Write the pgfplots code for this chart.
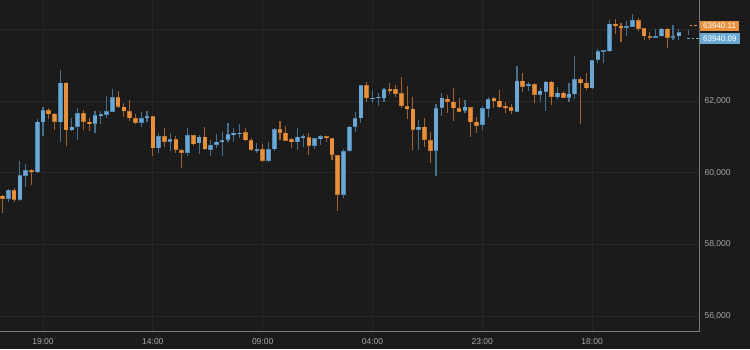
\documentclass[border=0pt]{standalone}
\usepackage{pgfplots}
\usepackage{pgfplotstable}
\pgfplotsset{compat=1.18}
\usepackage{fontspec}
\setmainfont{Liberation Sans}
\definecolor{bg}{HTML}{1B1B1B}
\definecolor{gridc}{HTML}{272727}
\definecolor{axisgray}{HTML}{7A7A7A}
\definecolor{tickc}{HTML}{A8A8A8}
\definecolor{bluebody}{HTML}{6CA8D3}
\definecolor{blueborder}{HTML}{4F88B2}
\definecolor{bluewick}{HTML}{46708F}
\definecolor{orangebody}{HTML}{E8903C}
\definecolor{orangeborder}{HTML}{C0742C}
\definecolor{orangewick}{HTML}{A4622A}
\definecolor{orangelab}{HTML}{E8913F}
\definecolor{bluelab}{HTML}{6AAAD4}

\pgfplotstableread{
k o h l c
-6 59265 59544 59191 59516
-4 59237 60326 59209 59935
-3 59916 60251 59609 60065
-1 60009 61498 59981 61423
0 61405 61833 61033 61740
3 61405 62865 60865 62512
5 61182 61516 61163 61284
6 61275 61796 60912 61656
9 61368 61721 61107 61600
10 61591 61721 61349 61628
11 61609 62130 61535 61721
12 61702 62335 61684 62112
17 61395 61684 61284 61516
18 61516 61730 61423 61581
20 60679 61098 60540 61023
22 60865 61116 60605 60939
25 60558 61237 60474 61051
27 60819 61051 60521 61005
29 60633 60912 60474 60772
30 60772 61070 60679 60865
31 60846 61144 60474 60912
32 60912 61377 60846 61079
33 61070 61237 60865 61116
34 61079 61349 60958 61116
37 60605 60819 60540 60660
39 60325 60865 60307 60660
40 60651 61237 60605 61209
44 60846 61256 60633 61005
45 60977 61070 60726 61023
47 60744 60970 60660 60958
48 60940 61040 60772 61023
52 59377 60660 59284 60605
53 60605 61290 60590 61284
54 61284 61702 61144 61516
55 61516 62460 61395 62447
57 62056 62307 61935 62093
58 62083 62232 61860 62121
59 62074 62353 61981 62325
65 61190 61470 60632 61283
68 60604 61907 59907 61795
69 61813 62214 61590 62093
73 61730 62028 61656 61842
76 61330 61860 61191 61795
77 61777 62121 61563 62056
82 61702 62977 61690 62568
84 62428 62540 62279 62465
86 62167 62353 61963 62288
87 62260 62550 61721 62540
89 62102 62382 62056 62233
91 62093 62493 61963 62205
92 62186 63256 62056 62605
95 62354 63150 62326 63144
96 63144 63451 63051 63396
97 63386 63420 63061 63405
98 63386 64270 63380 64158
101 64056 64224 63823 64075
102 64065 64437 64060 64251
106 63786 64010 63777 63805
107 63805 64025 63777 64019
109 63777 64130 63712 63805
110 63805 64019 63693 63926
}\bluedata

\pgfplotstableread{
k o h l c
-7 59358 59380 58865 59265
-5 59516 59563 59172 59237
-2 60065 60093 59656 60028
1 61740 61814 61498 61628
2 61647 61660 61182 61423
4 62512 62540 60754 61182
7 61656 61749 61182 61423
8 61423 61535 61172 61349
13 62112 62279 61814 61833
14 61842 61935 61554 61712
15 61721 62028 61442 61516
16 61516 61628 61349 61395
19 61581 61590 60465 60679
21 61023 61256 60726 60865
23 60939 61033 60540 60633
24 60633 60660 60121 60558
26 61051 61060 60754 60791
28 61005 61284 60633 60651
35 61126 61237 60884 60900
36 60912 60977 60605 60633
38 60660 60800 60307 60325
41 61209 61442 60912 61116
42 61116 61302 60884 60893
43 60940 60960 60698 60846
46 60986 61098 60493 60744
49 61023 61030 60846 60968
50 60958 60965 60353 60493
51 60493 60500 58930 59377
56 62446 62539 61981 62074
60 62325 62493 62195 62288
61 62325 62446 62102 62195
62 62214 62660 61795 61860
63 61860 62418 61488 61767
64 61786 62102 60632 61190
66 61283 61516 60707 60911
67 60911 61144 60260 60604
70 62065 62167 61674 61972
71 61981 62353 61451 61795
72 61795 62074 61690 61702
74 61823 61830 61004 61404
75 61423 61563 61116 61311
78 62075 62121 61795 62000
79 62009 62307 61810 61823
80 61851 61963 61656 61795
81 61823 61907 61637 61730
83 62568 62791 62242 62400
85 62465 62490 61935 62167
88 62540 62550 61888 62121
90 62233 62288 62080 62093
93 62605 62661 61349 62493
94 62512 62772 62307 62354
99 64158 64298 63870 64112
100 64103 64177 63647 64037
103 64251 64316 63963 64019
104 64037 64045 63712 63805
105 63805 63916 63712 63777
108 64019 64025 63479 63758
}\orangedata

\pgfplotstableread{
k h l
111.6 63990 63842
}\livedata

\pgfplotsset{
  wick/.style={draw=none, no markers, forget plot,
    error bars/.cd, y dir=plus, y explicit, error mark=none,
    error bar style={line width=1.1pt, draw=#1}},
  body/.style 2 args={draw=none, no markers, forget plot,
    error bars/.cd, y dir=both, y explicit, error mark=none,
    error bar style={line width=#2, draw=#1}},
}

\begin{document}
\begin{tikzpicture}
\fill[bg] (0,0) rectangle (750pt,349pt);
\begin{axis}[
  at={(0pt,18pt)}, anchor=south west,
  scale only axis, width=699.5pt, height=331pt,
  xmin=-7.44, xmax=113.58, ymin=55581, ymax=64819,
  axis x line*=bottom, axis y line*=right,
  axis line style={-, draw=axisgray, line width=0.9pt},
  xtick={0,19,38,57,76,95},
  xticklabels={19:00,14:00,09:00,04:00,23:00,18:00},
  ytick={56000,58000,60000,62000},
  extra y ticks={64000}, extra y tick labels={},
  extra y tick style={grid=major},
  scaled y ticks=false,
  major tick length=0pt,
  grid=major,
  major grid style={draw=gridc, line width=0.7pt},
  tick label style={font=\fontsize{8.5}{10}\selectfont, text=tickc},
  y tick label style={anchor=west, xshift=1.5pt,
    /pgf/number format/.cd, 1000 sep={,}, assume math mode=true},
  x tick label style={yshift=-4pt},
  clip mode=individual,
]
% wicks
\addplot[wick=bluewick] table[x=k, y=l, y error expr=\thisrow{h}-\thisrow{l}] {\bluedata};
\addplot[wick=orangewick] table[x=k, y=l, y error expr=\thisrow{h}-\thisrow{l}] {\orangedata};
\addplot[wick=bluewick] table[x=k, y=l, y error expr=\thisrow{h}-\thisrow{l}] {\livedata};
% bodies: border
\addplot[body={blueborder}{4.6pt}] table[x=k, y expr=(\thisrow{o}+\thisrow{c})/2,
  y error expr={max(abs(\thisrow{c}-\thisrow{o})/2,20)}] {\bluedata};
\addplot[body={orangeborder}{4.6pt}] table[x=k, y expr=(\thisrow{o}+\thisrow{c})/2,
  y error expr={max(abs(\thisrow{c}-\thisrow{o})/2,20)}] {\orangedata};
% bodies: fill
\addplot[body={bluebody}{3.4pt}] table[x=k, y expr=(\thisrow{o}+\thisrow{c})/2,
  y error expr={max(abs(\thisrow{c}-\thisrow{o})/2-17,0)}] {\bluedata};
\addplot[body={orangebody}{3.4pt}] table[x=k, y expr=(\thisrow{o}+\thisrow{c})/2,
  y error expr={max(abs(\thisrow{c}-\thisrow{o})/2-17,0)}] {\orangedata};
% bid / ask dashes
\addplot[orangelab, line width=0.8pt, dash pattern=on 2.5pt off 2pt, forget plot] coordinates {(111.9,64113) (113.58,64113)};
\addplot[bluelab, line width=0.8pt, dash pattern=on 2.5pt off 2pt, forget plot] coordinates {(111.5,63739) (113.58,63739)};
% price labels
\node[anchor=west, fill=orangelab, text=white, font=\fontsize{8}{9}\selectfont,
  inner xsep=3.5pt, inner ysep=0pt, minimum height=10.5pt] at (axis cs:113.58,64093) {63940.11};
\node[anchor=west, fill=bluelab, text=white, font=\fontsize{8}{9}\selectfont,
  inner xsep=3.5pt, inner ysep=0pt, minimum height=11pt] at (axis cs:113.58,63744) {63940.09};
\end{axis}
\pgfresetboundingbox
\useasboundingbox (0,0) rectangle (750pt,349pt);
\end{tikzpicture}
\end{document}
